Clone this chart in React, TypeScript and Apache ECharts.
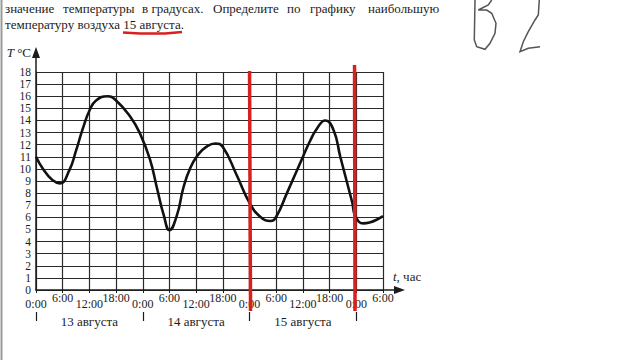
import React, { useEffect, useRef } from "react";
import * as echarts from "echarts";

// ---- data ----
const hours = [0, 5.4, 7.5, 9, 10.5, 12, 13.5, 16.1, 18, 21.2, 23.4, 25.6, 27.2, 28.7, 30, 31.7, 33.1, 34.7, 36.5, 38.2, 40.3, 42, 45.1, 48, 50.4, 52.7, 54, 56.4, 60, 61.6, 63.1, 65, 66.9, 68.4, 69.9, 71.1, 71.8, 73.6, 78];
const temps = [11, 8.8, 9.9, 11.5, 13.3, 14.8, 15.65, 16.0, 15.65, 14.3, 12.9, 10.8, 8.4, 6.2, 4.95, 6.2, 8.4, 10.1, 11.2, 11.8, 12.1, 11.8, 9.5, 7.2, 6.05, 5.7, 6.05, 8.0, 11.0, 12.3, 13.3, 14.0, 13.2, 11.0, 8.9, 7.2, 6.1, 5.5, 6.1];
const yTicksEven = [0, 2, 4, 6, 8, 10, 12, 14, 16, 18];
const yTicksOdd = [1, 3, 5, 7, 9, 11, 13, 15, 17];
const timeLabels = ["0:00", "6:00", "12:00", "18:00"];
const lowTimeTicks = [0, 12, 24, 36, 48, 60, 72];
const highTimeTicks = [6, 18, 30, 42, 54, 66, 78];
const dayLabels = ["13 августа", "14 августа", "15 августа"];
const dayCenters = [12, 36, 60];
const dayBounds = [0, 24, 48, 72];
const markHours = [48, 71.6];
const line1Words = ["значение", "температуры", "в градусах.", "Определите", "по", "графику", "наибольшую"];
const line1X = [5, 63, 142, 213, 287, 310, 368];
const line2 = "температуру воздуха 15 августа.";

const SERIF = "Liberation Serif, DejaVu Serif, serif";
const INK = "#1c1c1c";

export default function App() {
  const ref = useRef<HTMLDivElement>(null);
  useEffect(() => {
    if (!ref.current) return;
    const chart = echarts.init(ref.current, null, { renderer: "svg" });
    const fmtTime = (v: number) => timeLabels[(((v % 24) + 24) % 24) / 6] ?? "";
    const yLabel = (vals: number[]) => ({
      customValues: vals,
      formatter: (v: number) => (vals.includes(v) ? String(v) : ""),
      margin: 5, fontFamily: SERIF, fontSize: 11.5, lineHeight: 11, color: INK,
      showMinLabel: true, showMaxLabel: true, hideOverlap: false,
    });
    chart.setOption({
      animation: false,
      backgroundColor: "#fff",
      textStyle: { fontFamily: SERIF },
      grid: { left: 36, top: 72, width: 347, height: 218 },
      xAxis: [
        {
          type: "value", min: 0, max: 78, interval: 6,
          axisLine: { show: true, lineStyle: { color: INK, width: 1.5 } },
          axisTick: { show: true, length: 3, lineStyle: { color: INK } },
          splitLine: { show: true, lineStyle: { color: "#2a2a2a", width: 1.2 } },
          axisLabel: {
            customValues: lowTimeTicks,
            formatter: (v: number) => (lowTimeTicks.includes(v) ? fmtTime(v) : ""),
            margin: 14, verticalAlign: "middle", showMinLabel: true, showMaxLabel: true,
            fontFamily: SERIF, fontSize: 12, color: INK,
          },
        },
        {
          type: "value", min: 0, max: 78, interval: 6, position: "bottom", offset: 0,
          axisLine: { show: false }, axisTick: { show: false }, splitLine: { show: false },
          axisLabel: {
            customValues: highTimeTicks,
            formatter: (v: number) => (highTimeTicks.includes(v) ? fmtTime(v) : ""),
            margin: 8, verticalAlign: "middle", showMinLabel: true, showMaxLabel: true,
            fontFamily: SERIF, fontSize: 12, color: INK,
          },
        },
        {
          type: "value", min: 0, max: 78, interval: 6, position: "bottom", offset: 22,
          axisLine: { show: false },
          axisTick: { show: true, customValues: dayBounds, length: 9, lineStyle: { color: INK, width: 1.2 } },
          splitLine: { show: false },
          axisLabel: {
            customValues: dayCenters,
            formatter: (v: number) => { const i = dayCenters.indexOf(v); return i >= 0 ? dayLabels[i] : ""; },
            margin: 9, verticalAlign: "middle",
            fontFamily: SERIF, fontSize: 13, color: INK,
          },
        },
      ],
      yAxis: [
        {
          type: "value", min: 0, max: 18, interval: 1, position: "left",
          axisLine: { show: true, lineStyle: { color: INK, width: 1.5 } },
          axisTick: { show: false },
          splitLine: { show: true, lineStyle: { color: "#2a2a2a", width: 1.2 } },
          axisLabel: yLabel(yTicksEven),
        },
        {
          type: "value", min: 0, max: 18, interval: 1, position: "left", offset: 0,
          axisLine: { show: false }, axisTick: { show: false }, splitLine: { show: false },
          axisLabel: yLabel(yTicksOdd),
        },
      ],
      series: [
        {
          type: "line", xAxisIndex: 0, yAxisIndex: 0,
          data: hours.map((h, i) => [h, temps[i]]),
          smooth: 0.5, showSymbol: false,
          lineStyle: { color: "#111", width: 2.6 },
          z: 5,
        },
      ],
    });

    const px = (h: number, t: number) => chart.convertToPixel({ xAxisIndex: 0, yAxisIndex: 0 }, [h, t]) as number[];
    const [x0, y0] = px(0, 0);
    const [, yTop] = px(0, 18);
    const [xEnd] = px(78, 0);
    const yTip = yTop - 25;
    const xTip = xEnd + 22;

    const graphics: any[] = [
      // page border
      { type: "line", shape: { x1: 1.5, y1: 0, x2: 1.5, y2: 360 }, style: { stroke: "#9a9a9a", lineWidth: 2 } },
      // y axis extension + arrow
      { type: "line", shape: { x1: x0, y1: yTop, x2: x0, y2: yTip + 6 }, style: { stroke: INK, lineWidth: 1.5 } },
      { type: "polygon", shape: { points: [[x0 - 4, yTip + 11], [x0, yTip], [x0 + 4, yTip + 11]] }, style: { fill: INK } },
      // x axis extension + arrow
      { type: "line", shape: { x1: xEnd, y1: y0, x2: xTip - 6, y2: y0 }, style: { stroke: INK, lineWidth: 1.5 } },
      { type: "polygon", shape: { points: [[xTip - 11, y0 - 4], [xTip, y0], [xTip - 11, y0 + 4]] }, style: { fill: INK } },
      // axis names
      {
        type: "text", x: x0 - 5, y: yTip + 5,
        style: {
          text: "{i|T} °C", align: "right", verticalAlign: "middle",
          fontFamily: SERIF, fontSize: 13, fill: INK,
          rich: { i: { fontStyle: "italic", fontFamily: SERIF, fontSize: 13, fill: INK } },
        },
      },
      {
        type: "text", x: xEnd + 10, y: y0 - 14,
        style: {
          text: "{i|t}, час", align: "left", verticalAlign: "middle",
          fontFamily: SERIF, fontSize: 13, fill: INK,
          rich: { i: { fontStyle: "italic", fontFamily: SERIF, fontSize: 13, fill: INK } },
        },
      },
    ];

    // red annotation lines
    markHours.forEach((h, i) => {
      const [xm] = px(h, 0);
      graphics.push({
        type: "line",
        shape: { x1: xm, y1: i === 0 ? 71 : 65, x2: xm + (i === 0 ? 1 : 0.5), y2: 311 },
        style: { stroke: "#d8201f", lineWidth: 3.5 },
        z: 10,
      });
    });

    // question text
    line1Words.forEach((w, i) => {
      graphics.push({
        type: "text", x: line1X[i], y: 8,
        style: { text: w, fontFamily: SERIF, fontSize: 13, fill: INK, verticalAlign: "middle" },
      });
    });
    graphics.push({
      type: "text", x: 5, y: 24,
      style: { text: line2, fontFamily: SERIF, fontSize: 13, fill: INK, verticalAlign: "middle" },
    });
    // red underline
    graphics.push({
      type: "polyline",
      shape: { points: [[123, 32.5], [140, 33.5], [165, 33.5], [182, 32]] },
      style: { stroke: "#d8201f", lineWidth: 2.5, fill: null },
    });
    // handwritten "B2"
    graphics.push({
      type: "polyline",
      shape: { points: [[475, 0], [474.3, 40], [476.7, 46.7], [485, 49.3], [490, 43.3], [495, 33.3], [496, 23.3], [491.7, 13.3], [486.7, 10], [478.3, 10], [488.3, 5], [491.7, 0]] },
      style: { stroke: "#555", lineWidth: 1.5, fill: null },
    });
    graphics.push({
      type: "polyline",
      shape: { points: [[539.3, 0], [538.3, 15], [535, 20], [528.3, 31.7], [523.3, 41.7], [520, 51.7], [528.3, 48.3], [540, 46.7]] },
      style: { stroke: "#555", lineWidth: 1.5, fill: null },
    });

    chart.setOption({ graphic: graphics });
    return () => chart.dispose();
  }, []);

  return <div ref={ref} style={{ position: "fixed", left: 0, top: 0, width: 640, height: 360, background: "#fff" }} />;
}
